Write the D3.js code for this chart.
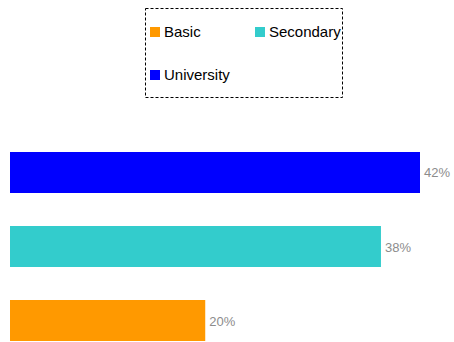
<!DOCTYPE html>
<html>
<head>
<meta charset="utf-8">
<script src="https://cdn.jsdelivr.net/npm/d3@7"></script>
<style>
  html, body { margin: 0; padding: 0; background: #fff; }
  svg { display: block; font-family: "Liberation Sans", Arial, sans-serif; }
</style>
</head>
<body>
<svg id="chart" width="454" height="342"></svg>
<script>
// Education level shares (%)
const categories = ["University", "Secondary", "Basic"];
const values = [42, 38, 20];
const colors = ["#0000ff", "#33cccc", "#ff9900"];
const legendOrder = ["Basic", "Secondary", "University"];

const svg = d3.select("#chart");

const colorOf = d3.scaleOrdinal().domain(categories).range(colors);

const x = d3.scaleLinear().domain([0, 42]).range([10, 420]);
const y = d3.scaleBand()
  .domain(categories)
  .range([152, 341])
  .paddingInner(0.446)
  .paddingOuter(0);

// Bars
svg.append("g")
  .selectAll("rect")
  .data(categories)
  .join("rect")
  .attr("x", x(0))
  .attr("y", d => y(d))
  .attr("width", (d, i) => x(values[i]) - x(0))
  .attr("height", y.bandwidth())
  .attr("fill", d => colorOf(d));

// Value labels
svg.append("g")
  .selectAll("text")
  .data(categories)
  .join("text")
  .attr("x", (d, i) => x(values[i]) + 4)
  .attr("y", d => y(d) + y.bandwidth() / 2 + 5)
  .attr("font-size", 13)
  .attr("fill", "#8c8c8c")
  .text((d, i) => values[i] + "%");

// Legend
const legend = svg.append("g");
legend.append("rect")
  .attr("x", 145.5).attr("y", 8.5)
  .attr("width", 197).attr("height", 89)
  .attr("fill", "none")
  .attr("stroke", "#000")
  .attr("stroke-dasharray", "3,2");

const legendPos = [
  { x: 150, y: 27 },
  { x: 255, y: 27 },
  { x: 150, y: 70 }
];

const item = legend.selectAll("g.item")
  .data(legendOrder)
  .join("g")
  .attr("class", "item")
  .attr("transform", (d, i) => `translate(${legendPos[i].x},${legendPos[i].y})`);

item.append("rect")
  .attr("width", 10).attr("height", 10)
  .attr("fill", d => colorOf(d));

item.append("text")
  .attr("x", 14)
  .attr("y", 10)
  .attr("font-size", 15)
  .attr("fill", "#000")
  .text(d => d);
</script>
</body>
</html>
